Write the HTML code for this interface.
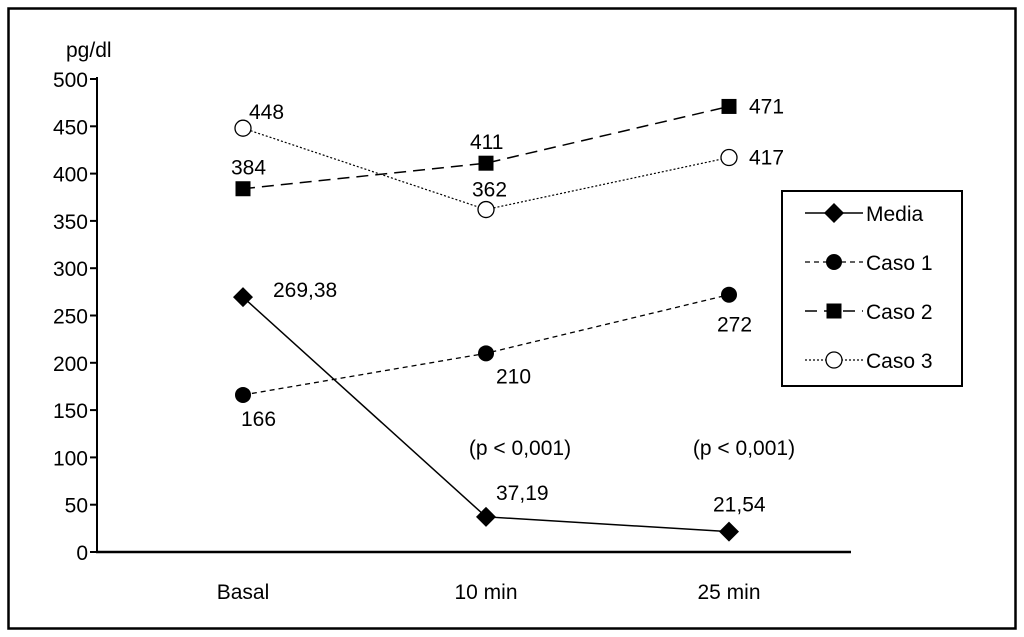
<!DOCTYPE html>
<html><head><meta charset="utf-8"><style>
body{margin:0;background:#fff}
svg{display:block;font-family:"Liberation Sans",Arial,sans-serif}
</style></head><body>
<svg id="c" width="1024" height="637">
<rect x="8.5" y="8.5" width="1007" height="620" fill="none" stroke="#000" stroke-width="2.5"/>
<g id="plot"></g>
</svg>
<script>
const categories=["Basal","10 min","25 min"];
const yTicks=[0,50,100,150,200,250,300,350,400,450,500];
const media=[269.38,37.19,21.54];
const mediaLabels=["269,38","37,19","21,54"];
const caso1=[166,210,272];
const caso1Labels=["166","210","272"];
const caso2=[384,411,471];
const caso2Labels=["384","411","471"];
const caso3=[448,362,417];
const caso3Labels=["448","362","417"];
const pLabels=["","(p < 0,001)","(p < 0,001)"];

const NS="http://www.w3.org/2000/svg";
const FS=21;
const g=document.getElementById('plot');
function xS(i){return 243+i*243;}
function yS(v){return 552-v*0.946;}
function el(t,a,p){const e=document.createElementNS(NS,t);for(const k in a)e.setAttribute(k,a[k]);(p||g).appendChild(e);return e;}
function txt(x,y,s,anchor){const t=el('text',{x:x,y:y,'font-size':FS,'text-anchor':anchor||'start',fill:'#000'});t.textContent=s;return t;}

let a=el('line',{x1:97,y1:yS(500)-2,x2:97,y2:553,stroke:'#000','stroke-width':2});


a=el('line',{x1:96,y1:552,x2:851,y2:552,stroke:'#000','stroke-width':2.5});


yTicks.forEach(v=>{
  const l=el('line',{x1:90,y1:yS(v),x2:97,y2:yS(v),stroke:'#000','stroke-width':2});
  
  
  const t=txt(88,yS(v)+8,String(v),'end');
  
  
});
let t=txt(66,57,"pg/dl");


const pOff=[0,34,15];
categories.forEach((c,i)=>{
  const tt=txt(xS(i),599,c,'middle');
  
  
  if(pLabels[i]){
    const p=txt(xS(i)+pOff[i],455,pLabels[i],'middle');
    
    
  }
});

function marker(type,x,y,parent){
  if(type==='diamond')return el('polygon',{points:`${x},${y-10} ${x+10},${y} ${x},${y+10} ${x-10},${y}`,fill:'#000'},parent);
  if(type==='circle')return el('circle',{cx:x,cy:y,r:8,fill:'#000'},parent);
  if(type==='square')return el('rect',{x:x-7.5,y:y-7.5,width:15,height:15,fill:'#000'},parent);
  return el('circle',{cx:x,cy:y,r:8,fill:'#fff',stroke:'#000','stroke-width':1.3},parent);
}
const series=[
 {name:'media',vals:media,labels:mediaLabels,m:'diamond',dash:'',w:1.5,off:[[30,0],[10,-17],[-16,-20]]},
 {name:'caso-1',vals:caso1,labels:caso1Labels,m:'circle',dash:'5,4',w:1.3,off:[[-2,31],[10,30],[-12,37]]},
 {name:'caso-2',vals:caso2,labels:caso2Labels,m:'square',dash:'12,7',w:1.5,off:[[-12,-14],[-16,-14],[20,7]]},
 {name:'caso-3',vals:caso3,labels:caso3Labels,m:'open',dash:'2,2',w:1.2,off:[[6,-9],[-14,-13],[20,7]]}
];
series.forEach(s=>{
  const pts=s.vals.map((v,i)=>xS(i)+','+yS(v)).join(' ');
  const pl=el('polyline',{points:pts,fill:'none',stroke:'#000','stroke-width':s.w,'stroke-dasharray':s.dash});
  
  
  s.vals.forEach((v,i)=>{
    const mk=marker(s.m,xS(i),yS(v));
    
    
    const lb=txt(xS(i)+s.off[i][0],yS(v)+s.off[i][1],s.labels[i]);
    
    
  });
});

const lg=el('g',{});


el('rect',{x:782,y:191,width:180,height:195,fill:'#fff',stroke:'#000','stroke-width':2},lg);
const legNames=["Media","Caso 1","Caso 2","Caso 3"];
legNames.forEach((n,i)=>{
  const y=213+i*49, s=series[i];
  const e=el('g',{},lg);
  
  
  el('line',{x1:805,y1:y,x2:863,y2:y,stroke:'#000','stroke-width':s.w,'stroke-dasharray':s.dash},e);
  marker(s.m,834,y,e);
  const tt=document.createElementNS(NS,'text');
  tt.setAttribute('x',866);tt.setAttribute('y',y+8);tt.setAttribute('font-size',FS);
  tt.textContent=n;e.appendChild(tt);
});
</script>
</body></html>
